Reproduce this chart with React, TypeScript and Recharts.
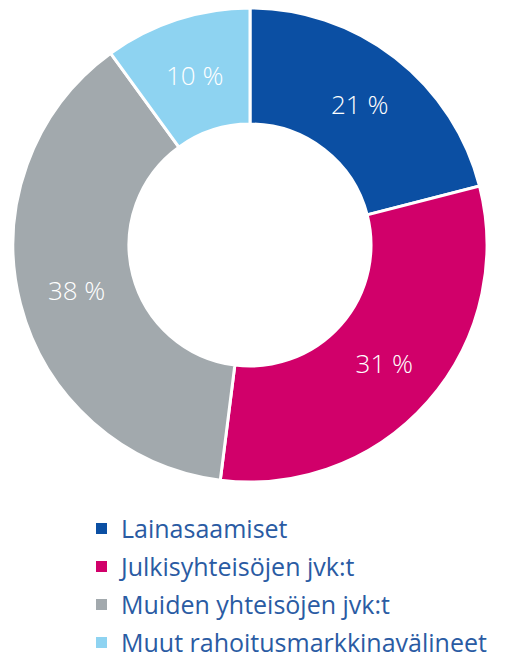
import { PieChart, Pie, Cell, Legend } from "recharts"

// osuudet prosentteina, myötäpäivään ylhäältä alkaen
const categories = [
  "Lainasaamiset",
  "Julkisyhteisöjen jvk:t",
  "Muiden yhteisöjen jvk:t",
  "Muut rahoitusmarkkinavälineet",
]
const shares = [21, 31, 38, 10]
const colors = ["#0b4fa3", "#d1006a", "#a2a9ad", "#8ed3f1"]

const data = categories.map((name, i) => ({ name, value: shares[i] }))

const RADIAN = Math.PI / 180
const FONT = "'Open Sans', 'Noto Sans', sans-serif"

const renderLabel = (props: any) => {
  const { cx, cy, midAngle, innerRadius, outerRadius, value } = props
  const r = (innerRadius + outerRadius) / 2
  const x = cx + r * Math.cos(-midAngle * RADIAN)
  const y = cy + r * Math.sin(-midAngle * RADIAN)
  return (
    <text
      x={x}
      y={y}
      fill="#fff"
      textAnchor="middle"
      dominantBaseline="central"
      fontSize={26}
      fontWeight={300}
      fontFamily={FONT}
    >
      {value} %
    </text>
  )
}

const renderLegend = () => (
  <div style={{ fontFamily: FONT, display: "flex", flexDirection: "column", gap: 12 }}>
    {data.map((d, i) => (
      <div
        key={d.name}
        style={{ display: "flex", alignItems: "center", height: 26 }}
      >
        <span
          style={{
            display: "inline-block",
            width: 11,
            height: 11,
            background: colors[i],
            marginRight: 14,
          }}
        />
        <span
          style={{
            fontSize: 25,
            lineHeight: 1,
            color: "#2a5ba3",
            whiteSpace: "nowrap",
          }}
        >
          {d.name}
        </span>
      </div>
    ))}
  </div>
)

export default function App() {
  return (
    <PieChart width={508} height={653}>
      <Pie
        data={data}
        dataKey="value"
        cx={237}
        cy={232}
        innerRadius={121}
        outerRadius={237}
        startAngle={90}
        endAngle={-270}
        stroke="#fff"
        strokeWidth={3}
        label={renderLabel}
        labelLine={false}
        isAnimationActive={false}
      >
        {data.map((d, i) => (
          <Cell key={d.name} fill={colors[i]} />
        ))}
      </Pie>
      <Legend
        content={renderLegend}
        wrapperStyle={{ top: 507, left: 88, width: 420 }}
      />
    </PieChart>
  )
}
